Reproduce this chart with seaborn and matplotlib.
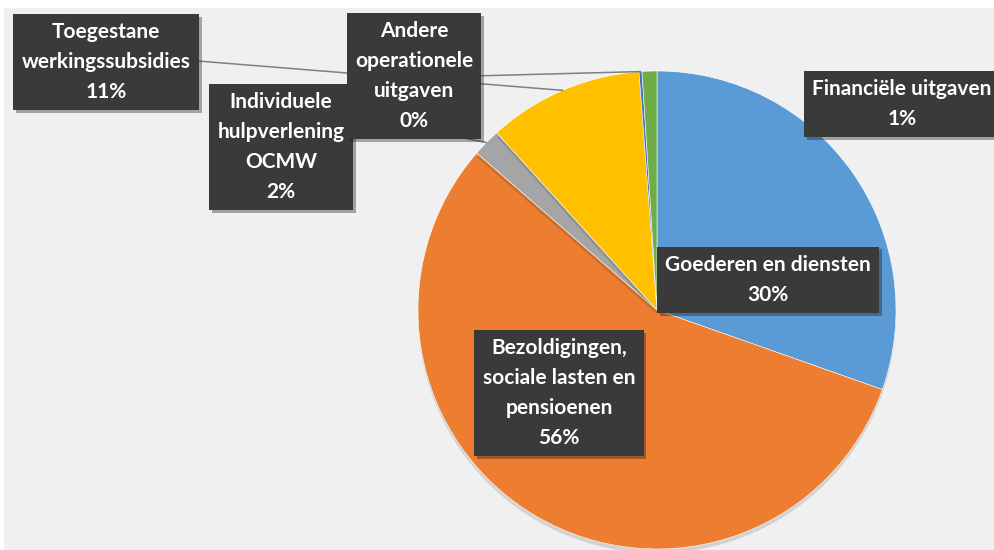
"""
Pie chart — verdeling van de exploitatie-uitgaven per economische aard.
"""

import matplotlib
matplotlib.use("Agg")
import matplotlib.pyplot as plt
import matplotlib.patheffects as pe
from matplotlib.patches import Rectangle
import numpy as np
import seaborn as sns

# ── Data ───────────────────────────────────────────────────────────────────────
categories = [
    "Goederen en diensten",
    "Bezoldigingen,\nsociale lasten en\npensioenen",
    "Individuele\nhulpverlening\nOCMW",
    "Toegestane\nwerkingssubsidies",
    "Andere\noperationele\nuitgaven",
    "Financiële uitgaven",
]
shares = [30.4, 56.0, 1.9, 10.5, 0.2, 1.0]
pct_labels = ["30%", "56%", "2%", "11%", "0%", "1%"]

# ── Styling / layout (pixels, figure is 994×550 @ 100 dpi) ─────────────────────
W, H, DPI = 994, 550, 100
CX, CY, R = 657, 310, 239          # pie centre and radius in pixels
BG = "#f0f0f0"
BOX = "#3a3a3a"
LINE = "#808080"
COLOURS = ["#5B9BD5", "#ED7D31", "#A5A5A5", "#FFC000", "#4472C4", "#70AD47"]

# label centres (pixels) and whether a leader line is drawn + its start point
LABEL_POS = [(768, 280), (559, 393), (281, 147), (106, 62), (414, 76), (902, 104)]
LEADER = [None, None, (1.0, 0.8), (1.0, 0.52), (1.0, 0.5), None]
ZORDER = [5, 5, 5.5, 5, 6, 5]   # Andere drawn last so the OCMW leader runs under it


def px(x, y):
    """pixel (top-left origin) -> data units of the pie axes"""
    return (x - CX) / R, (CY - y) / R


sns.set_theme(style="white")
plt.rcParams["font.family"] = ["Lato", "DejaVu Sans"]

fig = plt.figure(figsize=(W / DPI, H / DPI), dpi=DPI, facecolor="white")
fig.patches.append(Rectangle((4 / W, 0), 1, 1 - 8 / H, transform=fig.transFigure,
                             facecolor=BG, edgecolor="none", zorder=-1))

ax = fig.add_axes([0, 0, 1, 1])
ax.patch.set_alpha(0)

wedges, _ = ax.pie(
    shares,
    colors=COLOURS,
    startangle=90,
    counterclock=False,
    radius=1.0,
    wedgeprops=dict(edgecolor="white", linewidth=0.4),
)
ax.set_aspect("auto")
ax.set_xlim(-CX / R, (W - CX) / R)
ax.set_ylim((CY - H) / R, CY / R)
ax.set_axis_off()

for w in wedges:
    w.set_path_effects([pe.SimplePatchShadow(offset=(0, -3), shadow_rgbFace="black",
                                             alpha=0.12), pe.Normal()])

# ── Labels ─────────────────────────────────────────────────────────────────────
for i, (w, cat, pct) in enumerate(zip(wedges, categories, pct_labels)):
    mid = np.deg2rad((w.theta1 + w.theta2) / 2)
    target = (np.cos(mid) * w.r, np.sin(mid) * w.r)
    arrow = None
    if LEADER[i] is not None:
        arrow = dict(arrowstyle="-", color=LINE, lw=1.1, relpos=LEADER[i],
                     shrinkA=0, shrinkB=0)
    t = ax.annotate(
        f"{cat}\n{pct}",
        xy=target,
        xytext=px(*LABEL_POS[i]),
        ha="center", va="center", multialignment="center",
        fontsize=15, fontweight="bold", color="white", linespacing=1.62,
        bbox=dict(boxstyle="square,pad=0.4", fc=BOX, ec="none"),
        arrowprops=arrow,
        zorder=ZORDER[i],
        annotation_clip=False,
    )
    t.get_bbox_patch().set_path_effects([
        pe.SimplePatchShadow(offset=(2, -2), alpha=0.35), pe.Normal()])

fig.savefig("out.png", dpi=DPI, facecolor=fig.get_facecolor())
